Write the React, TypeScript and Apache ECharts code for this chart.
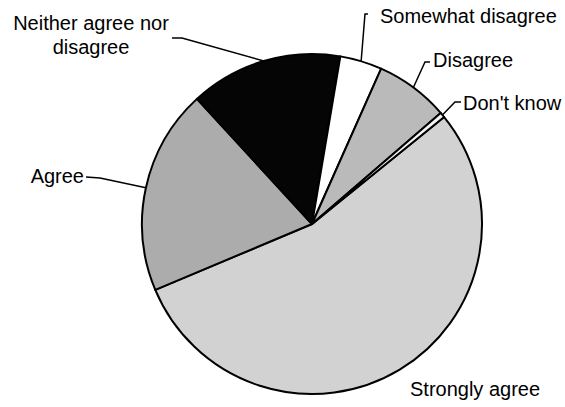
import React, { useEffect, useRef } from "react";
import * as echarts from "echarts";

const categories = [
  "Strongly agree",
  "Agree",
  "Neither agree nor disagree",
  "Somewhat disagree",
  "Disagree",
  "Don't know",
];
const values = [54.5, 19.5, 14.5, 4, 7, 0.5];
const labelTexts = [
  "Strongly agree",
  "Agree",
  "Neither agree nor\ndisagree",
  "Somewhat disagree",
  "Disagree",
  "Don't know",
];
const sliceColors = ["#d2d2d2", "#acacac", "#050505", "#ffffff", "#bababa", "#f4f4f4"];

const CX = 312;
const CY = 224;
const R = 170;
const START = 39;

const labelPos = [
  { x: 410, y: 389, align: "left", line: null },
  { x: 84, y: 176, align: "right", line: [[100, 178], [86, 177]] },
  { x: 91, y: 34.5, align: "center", line: [[182, 38], [172, 38]] },
  { x: 380, y: 16, align: "left", line: [[365, 14], [368, 14]] },
  { x: 433, y: 60, align: "left", line: [[425, 62], [430, 62]] },
  { x: 463, y: 102.5, align: "left", line: [[455, 102], [461, 102]] },
];

function edgePoint(i: number): number[] {
  const total = values.reduce((a, b) => a + b, 0);
  let before = 0;
  for (let k = 0; k < i; k++) before += values[k];
  const mid = START - ((before + values[i] / 2) / total) * 360;
  const rad = (mid * Math.PI) / 180;
  return [CX + R * Math.cos(rad), CY - R * Math.sin(rad)];
}

export default function App() {
  const ref = useRef<HTMLDivElement>(null);
  useEffect(() => {
    if (!ref.current) return;
    const chart = echarts.init(ref.current, undefined, { renderer: "svg" });
    chart.setOption({
      animation: false,
      backgroundColor: "#ffffff",
      series: [
        {
          type: "pie",
          center: [CX, CY],
          radius: R,
          startAngle: START,
          clockwise: true,
          avoidLabelOverlap: false,
          itemStyle: { borderColor: "#000", borderWidth: 2 },
          label: {
            show: true,
            position: "outside",
            color: "#000",
            fontSize: 20,
            fontFamily: "Liberation Sans, Arial, sans-serif",
            lineHeight: 24,
            formatter: (p: any) => labelTexts[p.dataIndex],
          },
          labelLine: {
            show: true,
            lineStyle: { color: "#000", width: 1.5 },
          },
          emphasis: { disabled: true },
          labelLayout: (params: any) => {
            const i = params.dataIndex;
            const lp = labelPos[i];
            const res: any = {
              x: lp.x,
              y: lp.y,
              align: lp.align,
              verticalAlign: "middle",
            };
            if (lp.line) {
              res.labelLinePoints = [edgePoint(i), lp.line[0], lp.line[1]];
            }
            return res;
          },
          data: categories.map((c, i) => ({
            name: c,
            value: values[i],
            itemStyle: { color: sliceColors[i] },
            labelLine: { show: labelPos[i].line !== null },
            label: { textAlign: labelPos[i].align },
          })),
        },
      ],
    });
    return () => chart.dispose();
  }, []);
  return (
    <div
      ref={ref}
      style={{ position: "fixed", left: 0, top: 0, width: 565, height: 407 }}
    />
  );
}
